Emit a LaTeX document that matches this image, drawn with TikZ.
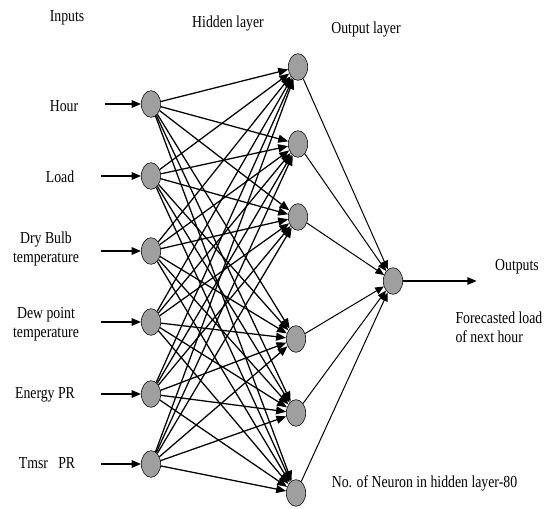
\documentclass[tikz,border=0pt]{standalone}
\usepackage{fontspec}
\setmainfont{Liberation Serif}[FakeStretch=0.82]
\usepackage{tikz}
\usetikzlibrary{shapes,arrows,arrows.meta,positioning}
\tikzset{fontscale/.style = {font=\fontsize{12.6}{14}\selectfont}}
\tikzstyle{neuron}=[ellipse, draw, thin, fill=gray!75, minimum width=14.5pt, minimum height=20pt, inner sep=0pt]
\tikzstyle{ctra}=[rectangle, inner sep=0pt]
\tikzstyle{legend_normal}=[rectangle, fontscale, inner sep=1pt, align=center]

\begin{document}
\begin{tikzpicture}[x=0.75pt, y=-0.75pt, thick,
  trans/.style={line width=0.95pt,-{Triangle[length=7.5pt,width=6pt]}},
  link/.style={line width=0.75pt,-{Triangle[length=6.5pt,width=5.5pt]}},
  time/.style={line width=1.2pt,-{Triangle[length=7pt,width=5.5pt]}}]
\useasboundingbox (0,0) rectangle (544,509);

%dummy nodes
\node[ctra] (a1) at (104,104) {};
\node[ctra] (a2) at (100,176) {};
\node[ctra] (a3) at (100,251) {};
\node[ctra] (a4) at (100,322) {};
\node[ctra] (a5) at (100,394) {};
\node[ctra] (a6) at (100,464) {};
\node[ctra] (y1) at (478,281) {};

% input layer
\node[neuron] (i1) at (151,104) {};
\node[neuron] (i2) at (151,176) {};
\node[neuron] (i3) at (151,251) {};
\node[neuron] (i4) at (151,322) {};
\node[neuron] (i5) at (151,394) {};
\node[neuron] (i6) at (151,464) {};

% hidden layer
\node[neuron] (h1) at (298,67) {};
\node[neuron] (h2) at (298,144) {};
\node[neuron] (h3) at (298,217) {};
\node[neuron] (h4) at (296,339) {};
\node[neuron] (h5) at (296,413) {};
\node[neuron] (h6) at (296,493) {};

% output layer
\node[neuron] (o1) at (393,281) {};

 % Input arrows
  \path[time] (a1) edge (i1);
  \path[time] (a2) edge (i2);
  \path[time] (a3) edge (i3);
  \path[time] (a4) edge (i4);
  \path[time] (a5) edge (i5);
  \path[time] (a6) edge (i6);

 % Input to hidden links
  \path[trans] (i1) edge (h1) edge (h2) edge (h3) edge (h4) edge (h5) edge (h6);
  \path[trans] (i2) edge (h1) edge (h2) edge (h3) edge (h4) edge (h5) edge (h6);
  \path[trans] (i3) edge (h1) edge (h2) edge (h3) edge (h4) edge (h5) edge (h6);
  \path[trans] (i4) edge (h1) edge (h2) edge (h3) edge (h4) edge (h5) edge (h6);
  \path[trans] (i5) edge (h1) edge (h2) edge (h3) edge (h4) edge (h5) edge (h6);
  \path[trans] (i6) edge (h1) edge (h2) edge (h3) edge (h4) edge (h5) edge (h6);

 % Hidden to output links
  \path[link] (h1) edge (o1);
  \path[link] (h2) edge (o1);
  \path[link] (h3) edge (o1);
  \path[link] (h4) edge (o1);
  \path[link] (h5) edge (o1);
  \path[link] (h6) edge (o1);
  \path[time] (o1) edge (y1);

 % Legends
  \node[legend_normal] (tin) at (67,18) {Inputs};
  \node[legend_normal] (thid) at (228,23) {Hidden layer};
  \node[legend_normal] (tout) at (366,29) {Output layer};

  \node[legend_normal] (l1) at (64,106) {Hour};
  \node[legend_normal] (l2) at (60,177) {Load};
  \node[legend_normal] (l3) at (46,249) {Dry Bulb\\temperature};
  \node[legend_normal] (l4) at (46,324) {Dew point\\temperature};
  \node[legend_normal] (l5) at (45,395) {Energy PR};
  \node[legend_normal] (l6) at (47,463) {Tmsr\ \ \ PR};

  \node[legend_normal] (lout) at (517,267) {Outputs};
  \node[legend_normal, align=left, anchor=west, inner sep=0pt] (lfc) at (455,327) {Forecasted load\\of next hour};
  \node[legend_normal, anchor=west] (lnum) at (330,483) {No. of Neuron in hidden layer-80};
\end{tikzpicture}
\end{document}
